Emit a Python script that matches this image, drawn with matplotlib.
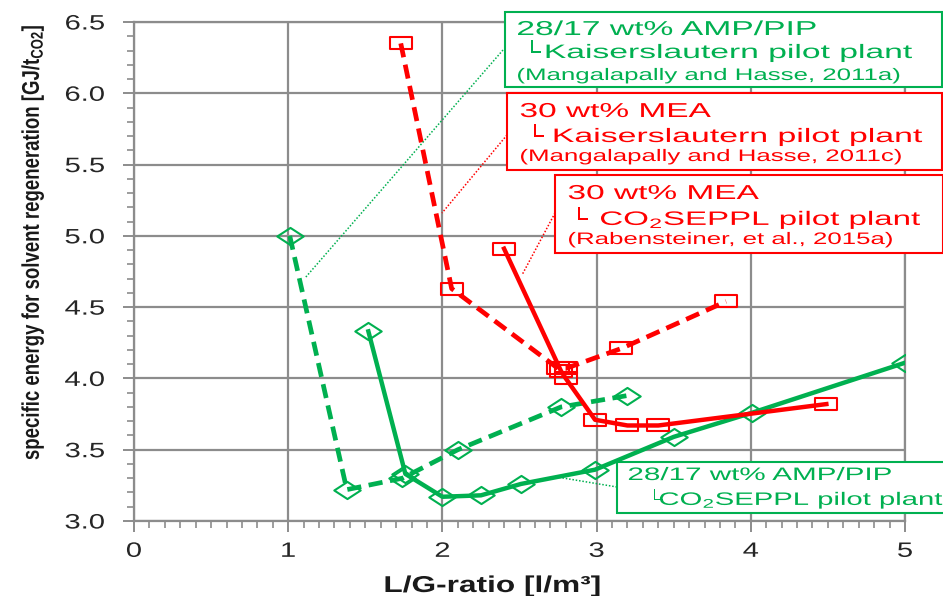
import matplotlib
matplotlib.use("Agg")
import matplotlib.pyplot as plt
import matplotlib.patheffects as pe
from matplotlib.path import Path
from matplotlib.transforms import Affine2D
from matplotlib.patches import Rectangle
from matplotlib.lines import Line2D
from matplotlib.ticker import MultipleLocator, FormatStrFormatter

plt.rcParams['font.family'] = ['Liberation Sans', 'DejaVu Sans']

# ---------------- data ----------------
amp_kl_x = [1.01, 1.38, 1.74, 2.10, 2.77, 3.20]
amp_kl_y = [5.00, 3.22, 3.30, 3.50, 3.80, 3.88]

amp_co2_x = [1.52, 1.76, 2.00, 2.25, 2.51, 2.99, 3.50, 4.01, 5.00]
amp_co2_y = [4.33, 3.33, 3.17, 3.18, 3.26, 3.36, 3.59, 3.76, 4.11]

mea_kl_x = [1.73, 2.06, 2.75, 2.80, 3.16, 3.84]
mea_kl_y = [6.35, 4.63, 4.07, 4.07, 4.21, 4.54]

mea_co2_x = [2.40, 2.77, 2.80, 2.99, 3.20, 3.40, 4.49]
mea_co2_y = [4.91, 4.05, 4.00, 3.71, 3.67, 3.67, 3.82]

x_ticks = [0, 1, 2, 3, 4, 5]
y_ticks = [3.0, 3.5, 4.0, 4.5, 5.0, 5.5, 6.0, 6.5]

GREEN = '#00B050'
RED = '#FF0000'
GRID = '#8C8C8C'

W, H = 943, 596


class HStretch(pe.AbstractPathEffect):
    """Draw text paths stretched horizontally (display x) around an anchor."""
    def __init__(self, sx=1.4, anchor='left'):
        super().__init__()
        self.sx = sx
        self.anchor = anchor

    def draw_path(self, renderer, gc, tpath, affine, rgbFace=None):
        bb = tpath.get_extents(affine)
        if self.anchor == 'left':
            a = bb.x0
        elif self.anchor == 'right':
            a = bb.x1
        else:
            a = 0.5 * (bb.x0 + bb.x1)
        t = affine + Affine2D().translate(-a, 0).scale(self.sx, 1).translate(a, 0)
        renderer.draw_path(gc, tpath, t, rgbFace)


def fx(px):
    return px / W


def fy(py):
    return 1 - py / H


fig = plt.figure(figsize=(W / 100, H / 100), dpi=100)
ax = fig.add_axes([fx(134), fy(521), (905 - 134) / W, (521 - 22) / H])

diamond = Path([(-1, 0), (0, 0.65), (1, 0), (0, -0.65), (-1, 0)],
               [Path.MOVETO, Path.LINETO, Path.LINETO, Path.LINETO, Path.CLOSEPOLY])
square = Path([(-1, -0.58), (1, -0.58), (1, 0.58), (-1, 0.58), (-1, -0.58)],
              [Path.MOVETO, Path.LINETO, Path.LINETO, Path.LINETO, Path.CLOSEPOLY])

dash = (0, (3.0, 1.6))
ax.plot(amp_kl_x, amp_kl_y, color=GREEN, lw=3.4, ls=dash, marker=diamond, ms=19,
        mfc='none', mec=GREEN, mew=1.5, zorder=3)
ax.plot(amp_co2_x, amp_co2_y, color=GREEN, lw=3.2, ls='-', marker=diamond, ms=19,
        mfc='none', mec=GREEN, mew=1.5, zorder=3)
ax.plot(mea_kl_x, mea_kl_y, color=RED, lw=3.4, ls=dash, marker=square, ms=16,
        mfc='none', mec=RED, mew=1.5, zorder=4)
ax.plot(mea_co2_x, mea_co2_y, color=RED, lw=3.2, ls='-', marker=square, ms=16,
        mfc='none', mec=RED, mew=1.5, zorder=4)

ax.set_xlim(0, 5)
ax.set_ylim(3.0, 6.5)
ax.set_xticks(x_ticks)
ax.set_yticks(y_ticks)
ax.xaxis.set_minor_locator(MultipleLocator(0.1))
ax.yaxis.set_minor_locator(MultipleLocator(0.1))
ax.yaxis.set_major_formatter(FormatStrFormatter('%.1f'))
ax.grid(True, which='major', color=GRID, lw=1.6)
ax.set_axisbelow(True)
for s in ax.spines.values():
    s.set_color(GRID)
    s.set_linewidth(1.6)
ax.tick_params(which='major', direction='out', length=8, width=1.4, color=GRID,
               labelsize=15, labelcolor='#262626')
ax.tick_params(which='minor', direction='out', length=5, width=1.2, color=GRID)
ax.tick_params(axis='x', which='major', pad=7)
ax.tick_params(axis='y', which='major', pad=13)
for lab in ax.get_xticklabels():
    lab.set_path_effects([HStretch(1.4, 'center')])
for lab in ax.get_yticklabels():
    lab.set_path_effects([HStretch(1.4, 'right')])

# axis labels
fig.text(fx(33), fy(242), 'specific energy for solvent regeneration $\\mathregular{[GJ/t_{CO2}]}$',
         rotation=90, ha='center', va='center', rotation_mode='anchor',
         fontsize=13.4, fontweight='bold', color='#1a1a1a',
         path_effects=[HStretch(1.3, 'center')])
fig.text(fx(492), fy(592), 'L/G-ratio [l/m³]', ha='center', va='baseline',
         fontsize=16.5, fontweight='bold', color='#1a1a1a',
         path_effects=[HStretch(1.38, 'center')])

# annotation boxes: (x0, y0, x1, y1) in pixels
boxes = [
    ((505, 12, 942, 87), GREEN),
    ((507, 93, 942, 170), RED),
    ((555, 175, 943, 253), RED),
    ((617, 462, 960, 513), GREEN),
]
for (x0, y0, x1, y1), c in boxes:
    fig.add_artist(Rectangle((fx(x0), fy(y1)), (x1 - x0) / W, (y1 - y0) / H,
                             transform=fig.transFigure, facecolor='white',
                             edgecolor=c, lw=1.5, zorder=2, clip_on=False))

# dotted leader lines (pixels)
leaders = [
    ((503, 50), (305, 278), GREEN),
    ((507, 135), (442, 213), RED),
    ((555, 213), (522, 275), RED),
    ((617, 487), (557, 477), GREEN),
]
for (a, b, c) in leaders:
    fig.add_artist(Line2D([fx(a[0]), fx(b[0])], [fy(a[1]), fy(b[1])],
                          transform=fig.transFigure, color=c, lw=1.1,
                          ls=(0, (1, 1.2)), zorder=1.5))

# box text lines: (text, x px, baseline px, size, stretch, color)
lines = [
    ('28/17 wt% AMP/PIP', 517, 35, 14.5, 1.67, GREEN),
    ('└', 525, 58, 14, 1.3, GREEN),
    ('Kaiserslautern pilot plant', 545, 58, 14, 1.73, GREEN),
    ('(Mangalapally and Hasse, 2011a)', 517, 80, 12, 1.55, GREEN),
    ('30 wt% MEA', 520, 117, 14.5, 1.66, RED),
    ('└', 528, 142, 14, 1.3, RED),
    ('Kaiserslautern pilot plant', 553, 142, 14, 1.74, RED),
    ('(Mangalapally and Hasse, 2011c)', 520, 161, 12, 1.55, RED),
    ('30 wt% MEA', 568, 199, 14.5, 1.66, RED),
    ('└', 572, 225, 14, 1.3, RED),
    ('CO$\\mathregular{_2}$SEPPL pilot plant', 600, 225, 14, 1.7, RED),
    ('(Rabensteiner, et al., 2015a)', 568, 244, 12, 1.55, RED),
    ('28/17 wt% AMP/PIP', 628, 480, 13, 1.64, GREEN),
    ('└', 648, 505, 13, 1.3, GREEN),
    ('CO$\\mathregular{_2}$SEPPL pilot plant', 659, 505, 13, 1.62, GREEN),
]
for (t, x, y, s, k, c) in lines:
    fig.text(fx(x), fy(y), t, ha='left', va='baseline', fontsize=s, color=c,
             zorder=3, path_effects=[HStretch(k, 'left')])

fig.savefig('out.png', dpi=100)
